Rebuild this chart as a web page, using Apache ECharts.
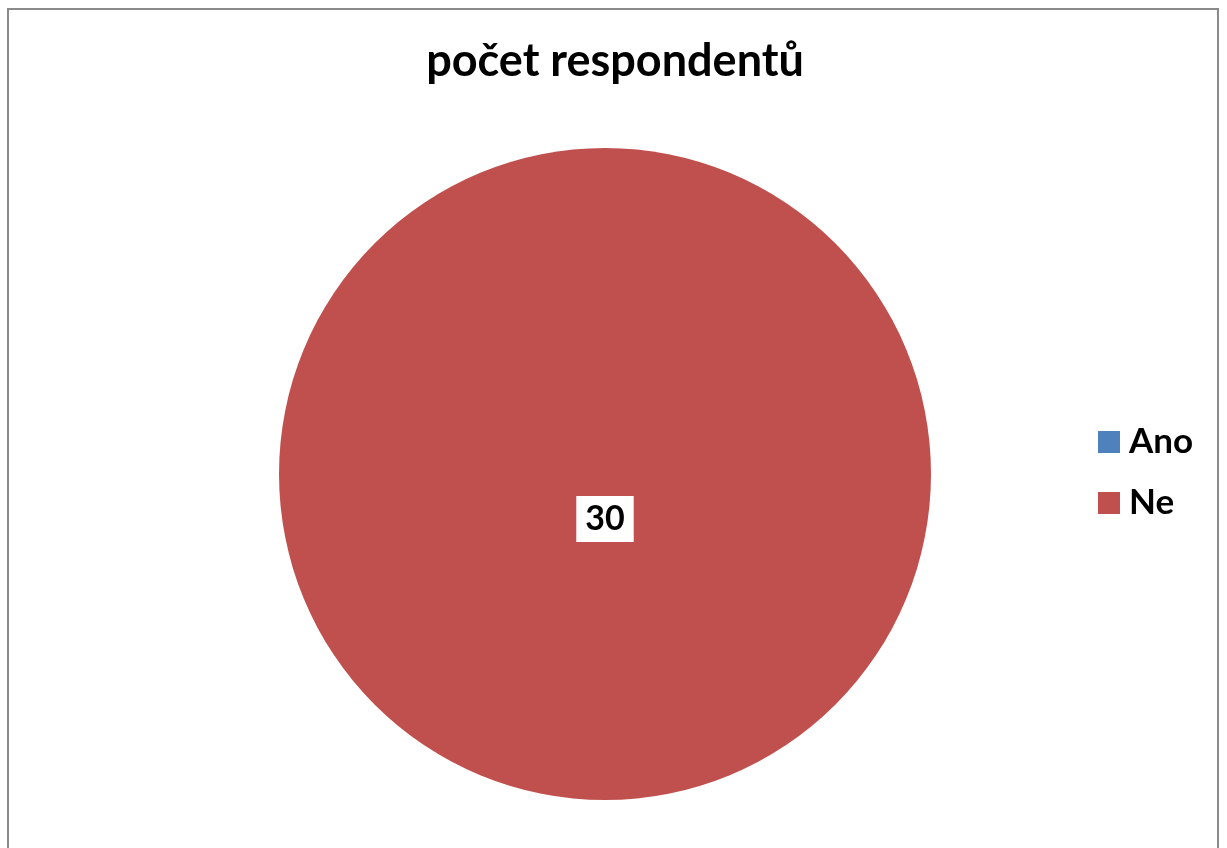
<!DOCTYPE html>
<html>
<head>
<meta charset="utf-8">
<script src="https://cdn.jsdelivr.net/npm/echarts@6/dist/echarts.min.js"></script>
<style>
  html, body { margin: 0; padding: 0; background: #fff; }
  #chart { width: 1227px; height: 848px; }
</style>
</head>
<body>
<div id="chart"></div>
<script>
// Survey answers and counts
const categories = ['Ano', 'Ne'];
const counts = [0, 30];
const colors = ['#4F81BD', '#C0504D'];
const titleText = 'počet respondentů';

const chart = echarts.init(document.getElementById('chart'));

const pieData = categories.map((name, i) => ({
  name: name,
  value: counts[i],
  itemStyle: { color: colors[i] },
  label: { show: counts[i] > 0 }
}));

chart.setOption({
  animation: false,
  title: {
    text: titleText,
    left: 610,
    textAlign: 'center',
    top: 34,
    textStyle: { fontFamily: 'Lato', fontWeight: 'bold', fontSize: 45, color: '#000' }
  },
  legend: {
    orient: 'vertical',
    left: 1093,
    top: 419,
    itemWidth: 22,
    itemHeight: 22,
    itemGap: 25,
    icon: 'rect',
    data: categories,
    textStyle: {
      fontFamily: 'Lato', fontWeight: 'bold', fontSize: 35, color: '#000',
      lineHeight: 36, padding: [0, 0, 0, 4]
    }
  },
  graphic: [{
    type: 'rect',
    shape: { x: 8, y: 9, width: 1210, height: 860 },
    style: { fill: 'none', stroke: '#8a8a8a', lineWidth: 2 },
    silent: true
  }],
  series: [{
    type: 'pie',
    center: [605, 474],
    radius: 326,
    startAngle: 90,
    clockwise: true,
    avoidLabelOverlap: false,
    stillShowZeroSum: true,
    data: pieData,
    label: {
      position: 'center',
      offset: [0, 45],
      formatter: '{c}',
      fontFamily: 'Lato',
      fontWeight: 'bold',
      fontSize: 34,
      lineHeight: 36,
      color: '#000',
      backgroundColor: '#fff',
      padding: [6, 9, 4, 9]
    },
    labelLine: { show: false },
    emphasis: { disabled: true }
  }]
});
</script>
</body>
</html>
